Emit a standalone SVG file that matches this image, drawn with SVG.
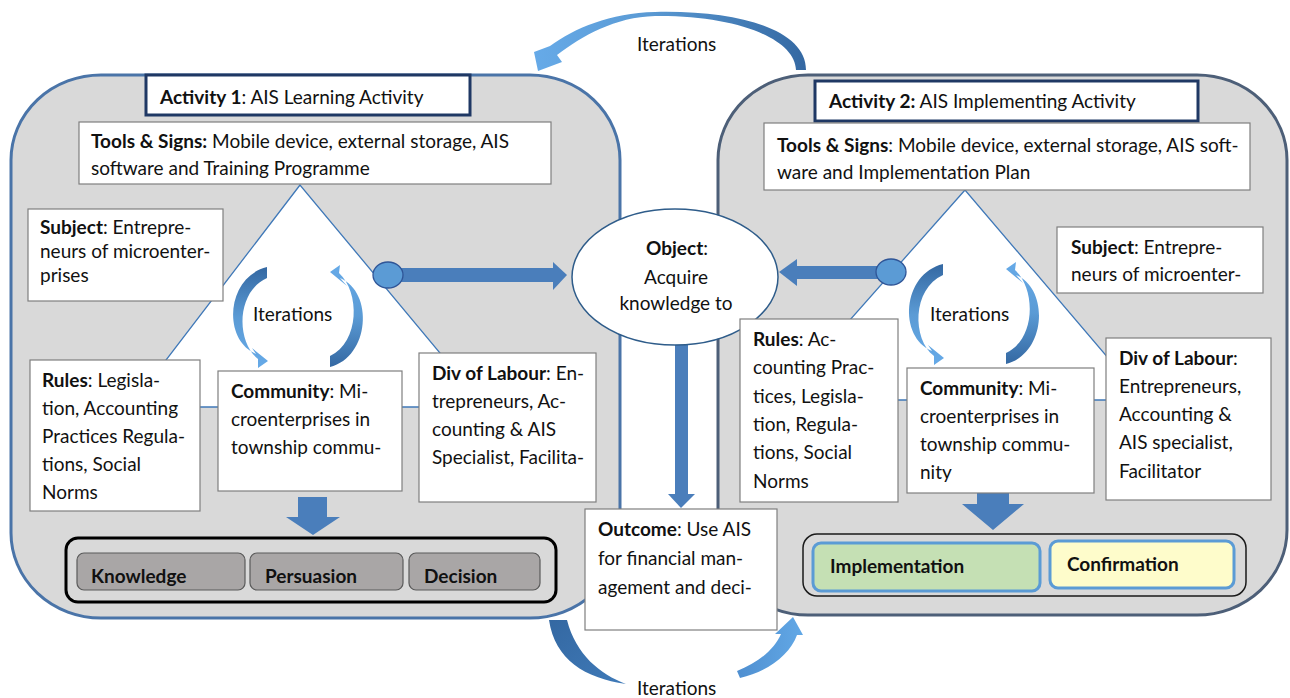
<svg xmlns="http://www.w3.org/2000/svg" width="1290" height="698" viewBox="0 0 1290 698">
<defs>
<style>
text{font-family:Lato,"Open Sans","Liberation Sans",sans-serif;font-size:19px;fill:#111}
.b{font-weight:bold}
.box{fill:#fff;stroke:#7f7f7f;stroke-width:1.2}
.tri{fill:#fff;stroke:#3f78b8;stroke-width:1.3}
.arr{fill:#4a7ebb}
.dot{fill:#5b9bd5;stroke:#2f5597;stroke-width:1.3}
.stage{fill:#a9a6a6;stroke:#5a5a5a;stroke-width:1.2}
</style>
<linearGradient id="gDown" x1="0" y1="0" x2="0" y2="1"><stop offset="0" stop-color="#3468a2"/><stop offset="0.5" stop-color="#5b9bd5"/><stop offset="1" stop-color="#66aae8"/></linearGradient>
<linearGradient id="gUp" x1="0" y1="1" x2="0" y2="0"><stop offset="0" stop-color="#3468a2"/><stop offset="0.5" stop-color="#5b9bd5"/><stop offset="1" stop-color="#66aae8"/></linearGradient>
<linearGradient id="gLeft" x1="1" y1="0" x2="0" y2="0"><stop offset="0" stop-color="#3468a2"/><stop offset="0.6" stop-color="#5b9bd5"/><stop offset="1" stop-color="#66aae8"/></linearGradient>
<linearGradient id="gRight" x1="0" y1="0" x2="1" y2="0"><stop offset="0" stop-color="#4f8fd0"/><stop offset="1" stop-color="#62a8e6"/></linearGradient>
<linearGradient id="gBL" x1="0" y1="0" x2="1" y2="1"><stop offset="0" stop-color="#3468a2"/><stop offset="1" stop-color="#3f7ab8"/></linearGradient>
<g id="cyc">
<path fill="url(#gDown)" d="M267,267 C226,277 222,340 256,354 L252,348 L268,361 L258,368 L258,359 C236,342 236,292 267,278 Z"/>
<path fill="url(#gUp)" d="M330,367 C370,357 374,292 340,278 L347,286 L330,272 L340,265 L339,273 C360,292 360,342 330,356 Z"/>
</g>
</defs>
<rect width="1290" height="698" fill="#fff"/>

<g id="panel1">
<rect x="11" y="75" width="609" height="543" rx="90" ry="85" fill="#d9d9d9" stroke="#4a74a8" stroke-width="3"/>
<polygon class="tri" points="300,185 130,407 485,407"/>
</g>
<g id="panel2">
<rect x="718" y="75" width="569" height="540" rx="90" ry="85" fill="#d9d9d9" stroke="#4d5f78" stroke-width="3"/>
<polygon class="tri" points="965,190 779,400 1144,400"/>
</g>

<g id="connectors">
<path fill="url(#gLeft)" d="M806,70 C806,30 740,10 655,12 C610,13 575,28 550,46 L534,52 L538,71 L562,62 L557,55 C582,36 615,17 655,16 C735,15 795,38 796,70 Z"/>
<path fill="url(#gBL)" d="M549,620 C555,660 585,678 626,684 C600,674 576,655 567,620 Z"/>
<path fill="url(#gRight)" d="M737,671 C760,662 775,648 781,634 L775,634 L793,617 L803,635 L797,635 C790,655 767,672 740,678 Z"/>
<use href="#cyc"/>
<use href="#cyc" transform="translate(676,-3)"/>
<rect class="arr" x="400" y="268" width="155" height="14"/>
<polygon class="arr" points="553,262 567,275 553,290"/>
<ellipse class="dot" cx="388" cy="275" rx="15" ry="13"/>
<rect class="arr" x="795" y="266" width="85" height="13"/>
<polygon class="arr" points="797,259 779,272 797,286"/>
<ellipse class="dot" cx="891" cy="272" rx="15" ry="13"/>
<rect class="arr" x="675" y="345" width="13" height="150"/>
<polygon class="arr" points="668,494 695,494 681,508"/>
<polygon class="arr" points="298,497 327,497 327,517 340,517 313,535 286,517 298,517"/>
<polygon class="arr" points="977,493 1009,493 1009,504 1024,504 993,530 962,504 977,504"/>
<text x="637" y="51">Iterations</text>
<text x="637" y="695">Iterations</text>
<text x="253" y="321">Iterations</text>
<text x="930" y="321">Iterations</text>
</g>

<g id="activity1">
<rect x="146" y="75" width="324" height="40" fill="#fff" stroke="#1f3864" stroke-width="3"/>
<text x="160" y="104"><tspan class="b">Activity 1</tspan>: AIS Learning Activity</text>
</g>
<g id="tools1">
<rect class="box" x="79" y="122" width="472" height="62"/>
<text x="91" y="148"><tspan class="b">Tools &amp; Signs:</tspan> Mobile device, external storage, AIS</text>
<text x="91" y="175">software and Training Programme</text>
</g>
<g id="subject1">
<rect class="box" x="28" y="209" width="195" height="92"/>
<text x="40" y="234"><tspan class="b">Subject</tspan>: Entrepre-</text>
<text x="40" y="258">neurs of microenter-</text>
<text x="40" y="282">prises</text>
</g>
<g id="rules1">
<rect class="box" x="30" y="360" width="170" height="151"/>
<text x="42" y="387"><tspan class="b">Rules</tspan>: Legisla-</text>
<text x="42" y="415">tion, Accounting</text>
<text x="42" y="443">Practices Regula-</text>
<text x="42" y="471">tions, Social</text>
<text x="42" y="499">Norms</text>
</g>
<g id="community1">
<rect class="box" x="218" y="371" width="184" height="120"/>
<text x="231" y="398"><tspan class="b">Community</tspan>: Mi-</text>
<text x="231" y="426">croenterprises in</text>
<text x="231" y="454">township commu-</text>
</g>
<g id="labour1">
<rect class="box" x="419" y="353" width="177" height="149"/>
<text x="432" y="380"><tspan class="b">Div of Labour</tspan>: En-</text>
<text x="432" y="408">trepreneurs, Ac-</text>
<text x="432" y="436">counting &amp; AIS</text>
<text x="432" y="464">Specialist, Facilita-</text>
</g>
<g id="stages1">
<rect x="66" y="538" width="490" height="64" rx="12" fill="#d9d9d9" stroke="#000" stroke-width="3"/>
<rect class="stage" x="77" y="553" width="168" height="37" rx="7"/>
<rect class="stage" x="250" y="553" width="153" height="37" rx="7"/>
<rect class="stage" x="409" y="553" width="131" height="37" rx="7"/>
<text class="b" x="91" y="583">Knowledge</text>
<text class="b" x="265" y="583">Persuasion</text>
<text class="b" x="424" y="583">Decision</text>
</g>

<g id="object">
<ellipse cx="675" cy="277" rx="103" ry="68" fill="#fff" stroke="#2e5c8a" stroke-width="1.5"/>
<text x="677" y="255" text-anchor="middle"><tspan class="b">Object</tspan>:</text>
<text x="676" y="284" text-anchor="middle">Acquire</text>
<text x="676" y="310" text-anchor="middle">knowledge to</text>
</g>
<g id="outcome">
<rect class="box" x="585" y="509" width="192" height="121"/>
<text x="598" y="536"><tspan class="b">Outcome</tspan>: Use AIS</text>
<text x="598" y="565">for financial man-</text>
<text x="598" y="594">agement and deci-</text>
</g>

<g id="activity2">
<rect x="815" y="81" width="383" height="40" fill="#fff" stroke="#1f3864" stroke-width="3"/>
<text x="829" y="108"><tspan class="b">Activity 2:</tspan> AIS Implementing Activity</text>
</g>
<g id="tools2">
<rect class="box" x="764" y="123" width="486" height="67"/>
<text x="777" y="152"><tspan class="b">Tools &amp; Signs</tspan>: Mobile device, external storage, AIS soft-</text>
<text x="777" y="179">ware and Implementation Plan</text>
</g>
<g id="subject2">
<rect class="box" x="1057" y="227" width="206" height="66"/>
<text x="1071" y="254"><tspan class="b">Subject</tspan>: Entrepre-</text>
<text x="1071" y="281">neurs of microenter-</text>
</g>
<g id="rules2">
<rect class="box" x="740" y="319" width="158" height="183"/>
<text x="753" y="346"><tspan class="b">Rules</tspan>: Ac-</text>
<text x="753" y="374">counting Prac-</text>
<text x="753" y="403">tices, Legisla-</text>
<text x="753" y="431">tion, Regula-</text>
<text x="753" y="459">tions, Social</text>
<text x="753" y="488">Norms</text>
</g>
<g id="community2">
<rect class="box" x="907" y="368" width="187" height="125"/>
<text x="920" y="395"><tspan class="b">Community</tspan>: Mi-</text>
<text x="920" y="423">croenterprises in</text>
<text x="920" y="451">township commu-</text>
<text x="920" y="479">nity</text>
</g>
<g id="labour2">
<rect class="box" x="1106" y="338" width="165" height="162"/>
<text x="1119" y="365"><tspan class="b">Div of Labour</tspan>:</text>
<text x="1119" y="393">Entrepreneurs,</text>
<text x="1119" y="421">Accounting &amp;</text>
<text x="1119" y="449">AIS specialist,</text>
<text x="1119" y="478">Facilitator</text>
</g>
<g id="stages2">
<rect x="803" y="534" width="443" height="62" rx="14" fill="#d9d9d9" stroke="#1a1a1a" stroke-width="1.5"/>
<rect x="813" y="543" width="227" height="48" rx="8" fill="#c5e0b4" stroke="#5b9bd5" stroke-width="3"/>
<rect x="1050" y="541" width="184" height="47" rx="8" fill="#fefccb" stroke="#5b9bd5" stroke-width="3"/>
<text class="b" x="830" y="573">Implementation</text>
<text class="b" x="1067" y="571">Confirmation</text>
</g>
</svg>
